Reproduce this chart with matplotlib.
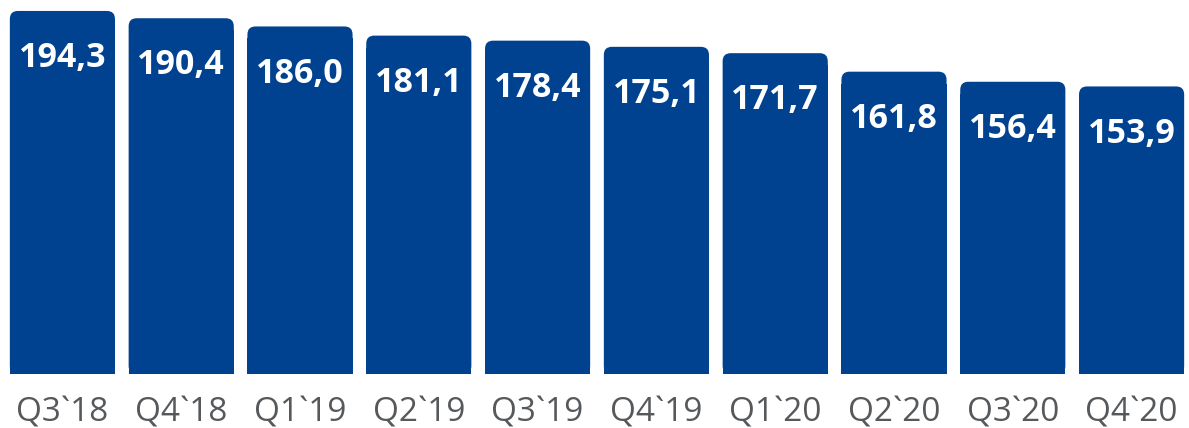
import matplotlib
matplotlib.use("Agg")
import matplotlib.pyplot as plt
from matplotlib.patches import FancyBboxPatch, Rectangle

categories = ["Q3`18", "Q4`18", "Q1`19", "Q2`19", "Q3`19", "Q4`19", "Q1`20", "Q2`20", "Q3`20", "Q4`20"]
values = [194.3, 190.4, 186.0, 181.1, 178.4, 175.1, 171.7, 161.8, 156.4, 153.9]
labels = ["194,3", "190,4", "186,0", "181,1", "178,4", "175,1", "171,7", "161,8", "156,4", "153,9"]

BAR_COLOR = "#00428f"
TICK_COLOR = "#56595c"

W, H, DPI = 1189, 428, 100
fig = plt.figure(figsize=(W / DPI, H / DPI), dpi=DPI)

left_px, right_px = 3, 1189
bottom_px = 374  # from top
pitch = 118.8
ax_h_px = 373.7
ax = fig.add_axes([left_px / W, 1 - bottom_px / H, (right_px - left_px) / W, ax_h_px / H])
xmin = -0.5
xmax = xmin + (right_px - left_px) / pitch
ax.set_xlim(xmin, xmax)
ax.set_ylim(0, 200)

x = list(range(len(values)))
bars = ax.bar(x, values, width=0.885, color=BAR_COLOR)

# rounded top corners
px_per_x = pitch
px_per_y = ax_h_px / 200
r_px = 8
rx = r_px / px_per_x
ry = r_px / px_per_y
for b in bars:
    bx, by = b.get_x(), b.get_y()
    bw, bh = b.get_width(), b.get_height()
    b.set_visible(False)
    p = FancyBboxPatch((bx, by), bw, bh,
                       boxstyle=f"round,pad=0,rounding_size={rx}",
                       mutation_aspect=ry / rx,
                       facecolor=BAR_COLOR, edgecolor="none")
    ax.add_patch(p)
    ax.add_patch(Rectangle((bx, by), bw, bh - ry * 1.5, facecolor=BAR_COLOR, edgecolor="none"))

for xi, v, lab in zip(x, values, labels):
    ax.annotate(lab, (xi, v), xytext=(0, -34), textcoords="offset points",
                ha="center", va="center", color="white", fontsize=24.5,
                fontweight="bold", family="Open Sans")

ax.set_xticks(x)
ax.set_xticklabels(categories, fontsize=24, color=TICK_COLOR, family="Open Sans")
ax.tick_params(axis="x", length=0, pad=16)
ax.set_yticks([])
for s in ax.spines.values():
    s.set_visible(False)

fig.savefig("out.png", dpi=DPI)
